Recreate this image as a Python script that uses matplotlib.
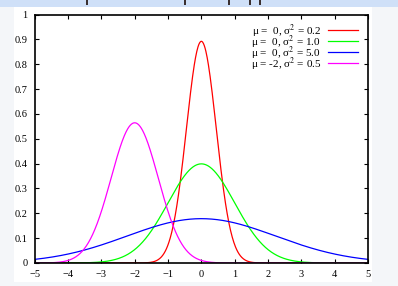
import numpy as np
import matplotlib.pyplot as plt
from matplotlib.patches import Rectangle
from matplotlib.lines import Line2D

mus = [0, 0, 0, -2]
sigma2s = [0.2, 1.0, 5.0, 0.5]
colors = ['#ff0000', '#00ff00', '#0000ff', '#ff00ff']
labels = ['μ =  0, σ$^2$ = 0.2',
          'μ =  0, σ$^2$ = 1.0',
          'μ =  0, σ$^2$ = 5.0',
          'μ = -2, σ$^2$ = 0.5']
xticks = list(range(-5, 6))
yticks = [0, 0.1, 0.2, 0.3, 0.4, 0.5, 0.6, 0.7, 0.8, 0.9, 1]
yticklabels = ['0', '0.1', '0.2', '0.3', '0.4', '0.5', '0.6', '0.7', '0.8', '0.9', '1']

plt.rcParams['font.family'] = ['Liberation Serif', 'DejaVu Serif']
plt.rcParams['mathtext.fontset'] = 'stix'

W, H = 398, 286
fig = plt.figure(figsize=(W / 100, H / 100), dpi=100, facecolor='#f4f6f9')
# heller Streifen oben (abgeschnittene Ueberschrift) und weisse Bildflaeche
fig.patches.append(Rectangle((0, 1 - 6.5 / H), 1, 6.5 / H, transform=fig.transFigure,
                             facecolor='#cfe0f8', edgecolor='none', zorder=-2))
for px in [86, 184, 228, 249, 259]:
    fig.patches.append(Rectangle((px / W, 1 - 4.5 / H), 1.5 / W, 4.5 / H, transform=fig.transFigure,
                                 facecolor='#3a3030', edgecolor='none', zorder=-1))
fig.patches.append(Rectangle((14 / W, 4 / H), 358 / W, 275 / H, transform=fig.transFigure,
                             facecolor='white', edgecolor='none', zorder=-1))

ax = fig.add_axes([34.7 / W, 1 - 263 / H, (368 - 34.7) / W, (263 - 14.5) / H])
ax.set_facecolor('white')

x = np.linspace(-5, 5, 801)
for mu, s2, c in zip(mus, sigma2s, colors):
    y = np.exp(-(x - mu) ** 2 / (2 * s2)) / np.sqrt(2 * np.pi * s2)
    ax.plot(x, y, color=c, lw=0.9)

ax.set_xlim(-5, 5)
ax.set_ylim(0, 1)
ax.set_xticks(xticks)
ax.set_yticks(yticks)
ax.set_yticklabels(yticklabels)
ax.tick_params(direction='in', top=True, right=True, length=3, width=0.8,
               labelsize=7.5, pad=5)
for sp in ax.spines.values():
    sp.set_linewidth(1.2)

# Legende im gnuplot-Stil: Text rechtsbuendig, Linie rechts daneben
for i, (lab, c) in enumerate(zip(labels, colors)):
    ty = 31 + 11 * i
    fig.text(321 / W, 1 - ty / H, lab, ha='right', va='center', fontsize=8)
    fig.add_artist(Line2D([328 / W, 358 / W], [1 - (ty - 1.5) / H] * 2,
                          transform=fig.transFigure, color=c, lw=0.9))

fig.savefig('out.png', dpi=100, facecolor=fig.get_facecolor())
